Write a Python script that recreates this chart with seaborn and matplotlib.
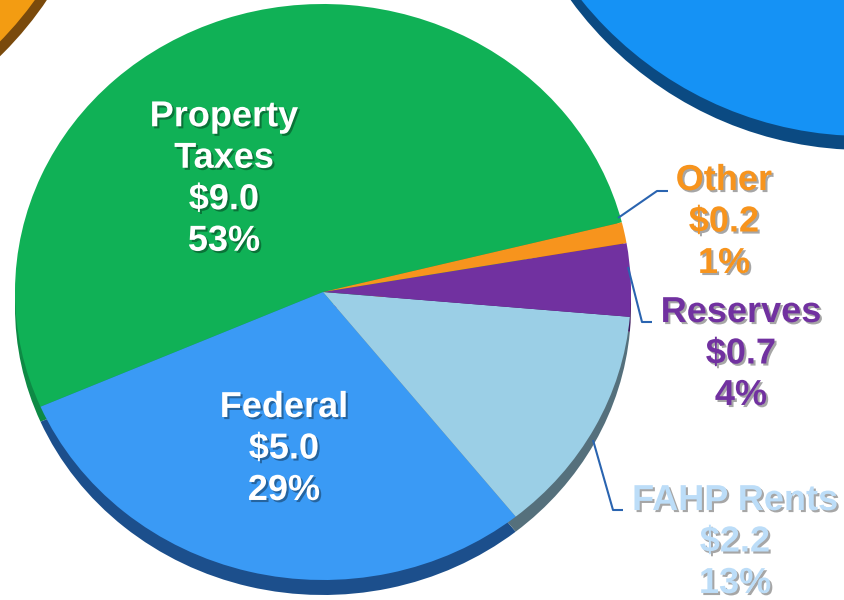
import matplotlib
matplotlib.use("Agg")
import matplotlib.pyplot as plt
import matplotlib.patheffects as pe
from matplotlib.patches import Ellipse
import seaborn as sns

# Revenue sources ($ millions)
sources = ["Property\nTaxes", "Federal", "FAHP Rents", "Reserves", "Other"]
amounts = [9.0, 5.0, 2.2, 0.7, 0.2]
shares = ["53%", "29%", "13%", "4%", "1%"]

face_colors = ["#10B156", "#3A9AF5", "#9BCFE6", "#7131A0", "#F7941D"]
side_colors = ["#0E8A45", "#1C4F8C", "#55707C", "#3F1A5E", "#9A5A10"]
label_colors = ["white", "white", "#BCDDF8", "#7131A0", "#F7941D"]

# label block centres in pixels (x, y from top)
label_pos = [(224, 179), (284, 449), (735, 542), (741, 354), (724, 222)]
# leader lines for the outside labels
leaders = {
    2: [(593, 440), (613, 510), (623, 510)],
    3: [(628, 267), (642, 322), (652, 322)],
    4: [(618, 218), (657, 191), (668, 191)],
}

sns.set_theme(style="white")
plt.rcParams["font.family"] = ["Liberation Sans", "DejaVu Sans"]

W, H = 845, 600
fig = plt.figure(figsize=(W / 100, H / 100), dpi=100)


def px_axes(x0, y0, x1, y1):
    # axes from pixel box (y measured from top)
    return fig.add_axes([x0 / W, 1 - y1 / H, (x1 - x0) / W, (y1 - y0) / H])


# neighbouring pies peeking in at the corners
bg = px_axes(0, 0, W, H)
bg.set_xlim(0, W)
bg.set_ylim(H, 0)
bg.axis("off")
bg.add_patch(Ellipse((864, -220), 730, 740, color="#0B4A82", lw=0))
bg.add_patch(Ellipse((864, -234), 730, 740, color="#1592F5", lw=0))
bg.add_patch(Ellipse((-250, -200), 716, 716, color="#7A4A0C", lw=0))
bg.add_patch(Ellipse((-254, -208), 712, 712, color="#F39C12", lw=0))

# main pie: side (shifted down) then top face
cx, cy, rx, ry, depth = 323, 292, 308, 288, 15
for colors, dy in [(side_colors, depth), (face_colors, 0)]:
    ax = px_axes(cx - rx, cy - ry + dy, cx + rx, cy + ry + dy)
    ax.pie(amounts, colors=colors, startangle=14, counterclock=True,
           radius=1, wedgeprops=dict(linewidth=0))
    ax.set_aspect("auto")
    ax.set_xlim(-1, 1)
    ax.set_ylim(-1, 1)
    ax.axis("off")

# labels and leader lines
top = px_axes(0, 0, W, H)
top.set_xlim(0, W)
top.set_ylim(H, 0)
top.axis("off")

shadow = [pe.withSimplePatchShadow(offset=(1.5, -1.5), shadow_rgbFace="black", alpha=0.35)]
for i, name in enumerate(sources):
    txt = f"{name}\n${amounts[i]:.1f}\n{shares[i]}"
    x, y = label_pos[i]
    top.text(x, y, txt, ha="center", va="center", multialignment="center",
             fontsize=26, fontweight="bold", color=label_colors[i],
             linespacing=1.24, path_effects=shadow)

for pts in leaders.values():
    xs, ys = zip(*pts)
    top.plot(xs, ys, color="#2A64B0", lw=1.5, solid_capstyle="butt")

fig.savefig("out.png", dpi=100)
